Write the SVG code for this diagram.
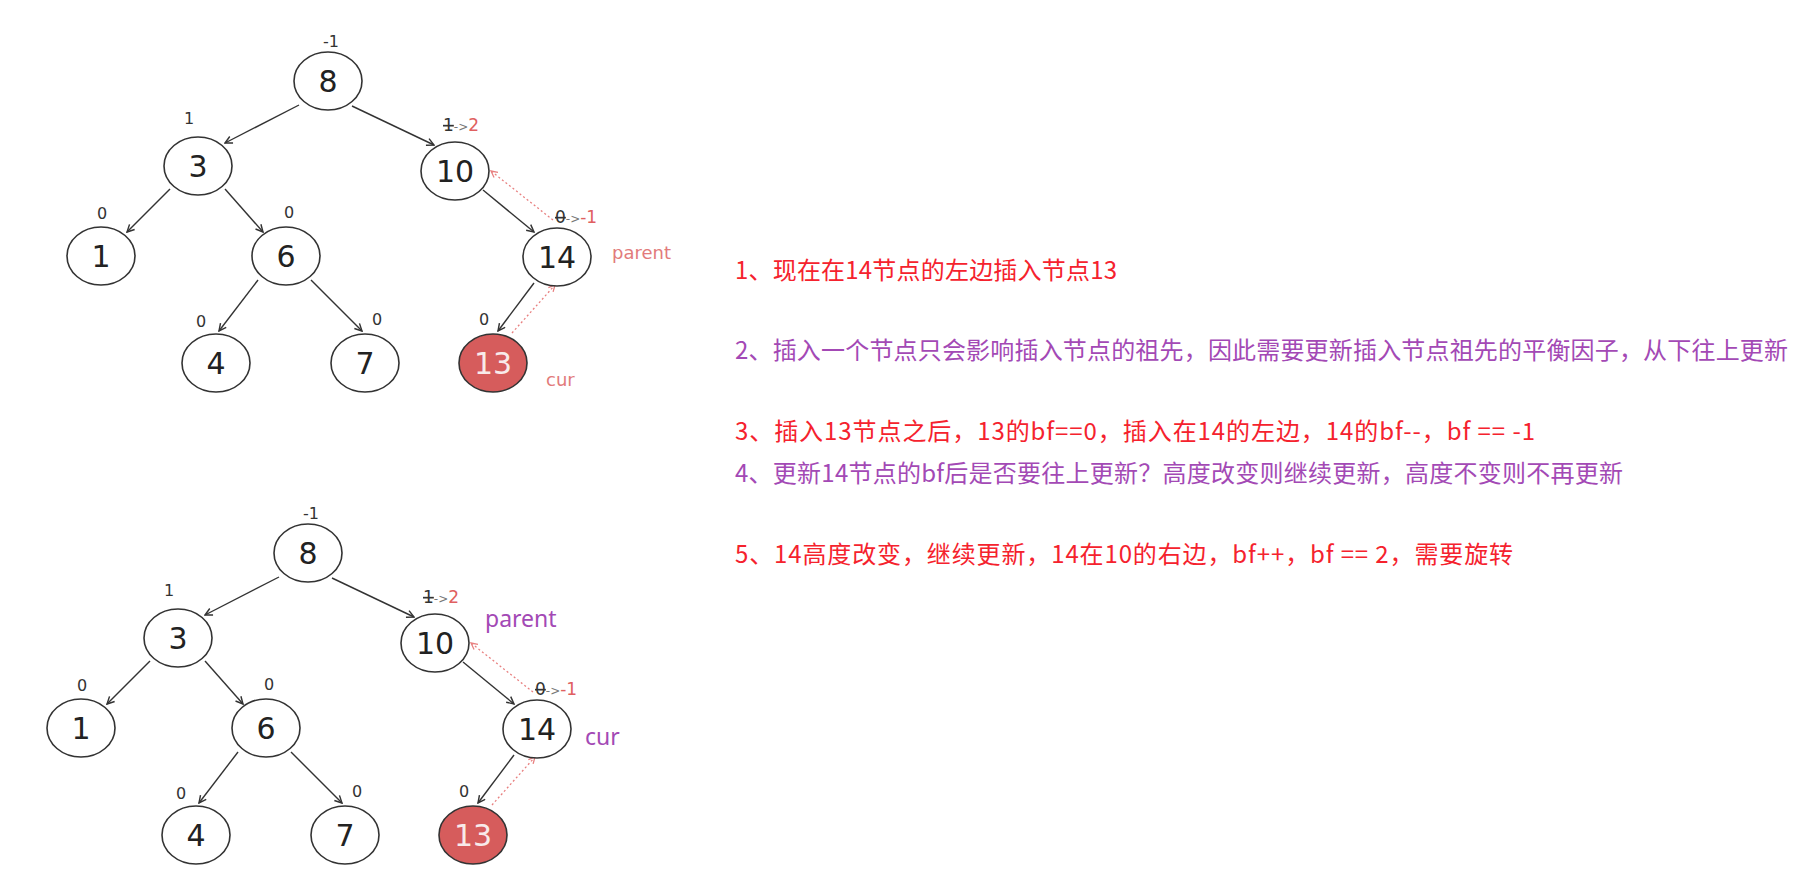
<svg xmlns="http://www.w3.org/2000/svg" width="1802" height="879" viewBox="0 0 1802 879">
<defs>
<style>
.nd{fill:#fff;stroke:#333;stroke-width:1.6}
.hot{fill:#d65c5c;stroke:#333;stroke-width:1.6}
.nt{font-family:"DejaVu Sans",sans-serif;font-size:30px;fill:#222;text-anchor:middle}
.ht{font-family:"DejaVu Sans",sans-serif;font-size:30px;fill:#f8eaea;text-anchor:middle}
.bf{font-family:"DejaVu Sans",sans-serif;font-size:16px;fill:#333;text-anchor:middle}
.bfs{font-family:"DejaVu Sans",sans-serif;font-size:17px;fill:#333}
.ar{fill:#777;font-size:12px}
.rd{fill:#e06060}
.e{stroke:#333;stroke-width:1.4;fill:none;marker-end:url(#ah)}
.d{stroke:#e88080;stroke-width:1.3;fill:none;stroke-dasharray:2 2.5;marker-end:url(#rh)}
.lr{font-family:"DejaVu Sans",sans-serif;font-size:18px;fill:#e27b7b}
.lp{font-family:"Noto Sans","Noto Sans CJK SC",sans-serif;font-size:23px;fill:#a349b5}
.t{font-family:"Noto Sans CJK SC","Noto Sans",sans-serif;font-size:24px}
.red{fill:#f5222d}
.pur{fill:#a349b5}
</style>
<marker id="ah" viewBox="0 0 10 10" refX="9" refY="5" markerWidth="9" markerHeight="9" orient="auto" markerUnits="userSpaceOnUse">
<path d="M1,1 L9,5 L1,9" fill="none" stroke="#333" stroke-width="1.6"/>
</marker>
<marker id="rh" viewBox="0 0 10 10" refX="9" refY="5" markerWidth="8" markerHeight="8" orient="auto" markerUnits="userSpaceOnUse">
<path d="M1,1 L9,5 L1,9" fill="none" stroke="#e88080" stroke-width="1.6"/>
</marker>
</defs>
<rect width="1802" height="879" fill="#fff"/>

<!-- Tree 1 -->
<g id="tree1">
<g id="connectors1">
<line class="e" x1="299" y1="105" x2="225" y2="143"/>
<line class="e" x1="352" y1="106" x2="434" y2="145"/>
<line class="e" x1="170" y1="189" x2="127" y2="232"/>
<line class="e" x1="225" y1="189" x2="263" y2="232"/>
<line class="e" x1="258" y1="280" x2="219" y2="331"/>
<line class="e" x1="311" y1="280" x2="362" y2="331"/>
<line class="e" x1="483" y1="190" x2="534" y2="232"/>
<line class="e" x1="534" y1="283" x2="498" y2="331"/>
<line class="d" x1="553" y1="220" x2="491" y2="171"/>
<line class="d" x1="512" y1="333" x2="555" y2="285"/>
</g>
<g id="t1-n8"><ellipse class="nd" cx="328" cy="81" rx="34" ry="29"/><text class="nt" x="328" y="92">8</text><text class="bf" x="331" y="47">-1</text></g>
<g id="t1-n3"><ellipse class="nd" cx="198" cy="166" rx="34" ry="29"/><text class="nt" x="198" y="177">3</text><text class="bf" x="189" y="124">1</text></g>
<g id="t1-n10"><ellipse class="nd" cx="455" cy="171" rx="34" ry="29"/><text class="nt" x="455" y="182">10</text><text class="bfs" x="443" y="131"><tspan text-decoration="line-through">1</tspan><tspan class="ar">-&gt;</tspan><tspan class="rd">2</tspan></text></g>
<g id="t1-n1"><ellipse class="nd" cx="101" cy="256" rx="34" ry="29"/><text class="nt" x="101" y="267">1</text><text class="bf" x="102" y="219">0</text></g>
<g id="t1-n6"><ellipse class="nd" cx="286" cy="256" rx="34" ry="29"/><text class="nt" x="286" y="267">6</text><text class="bf" x="289" y="218">0</text></g>
<g id="t1-n14"><ellipse class="nd" cx="557" cy="257" rx="34" ry="29"/><text class="nt" x="557" y="268">14</text><text class="bfs" x="555" y="223"><tspan text-decoration="line-through">0</tspan><tspan class="ar">-&gt;</tspan><tspan class="rd">-1</tspan></text></g>
<g id="t1-n4"><ellipse class="nd" cx="216" cy="363" rx="34" ry="29"/><text class="nt" x="216" y="374">4</text><text class="bf" x="201" y="327">0</text></g>
<g id="t1-n7"><ellipse class="nd" cx="365" cy="363" rx="34" ry="29"/><text class="nt" x="365" y="374">7</text><text class="bf" x="377" y="325">0</text></g>
<g id="t1-n13"><ellipse class="hot" cx="493" cy="363" rx="34" ry="29"/><text class="ht" x="493" y="374">13</text><text class="bf" x="484" y="325">0</text></g>
<text class="lr" x="612" y="259">parent</text>
<text class="lr" x="546" y="386">cur</text>
</g>

<!-- Tree 2 -->
<g id="tree2" transform="translate(-20,472)">
<g id="connectors2">
<line class="e" x1="299" y1="105" x2="225" y2="143"/>
<line class="e" x1="352" y1="106" x2="434" y2="145"/>
<line class="e" x1="170" y1="189" x2="127" y2="232"/>
<line class="e" x1="225" y1="189" x2="263" y2="232"/>
<line class="e" x1="258" y1="280" x2="219" y2="331"/>
<line class="e" x1="311" y1="280" x2="362" y2="331"/>
<line class="e" x1="483" y1="190" x2="534" y2="232"/>
<line class="e" x1="534" y1="283" x2="498" y2="331"/>
<line class="d" x1="553" y1="220" x2="491" y2="171"/>
<line class="d" x1="512" y1="333" x2="555" y2="285"/>
</g>
<g id="t2-n8"><ellipse class="nd" cx="328" cy="81" rx="34" ry="29"/><text class="nt" x="328" y="92">8</text><text class="bf" x="331" y="47">-1</text></g>
<g id="t2-n3"><ellipse class="nd" cx="198" cy="166" rx="34" ry="29"/><text class="nt" x="198" y="177">3</text><text class="bf" x="189" y="124">1</text></g>
<g id="t2-n10"><ellipse class="nd" cx="455" cy="171" rx="34" ry="29"/><text class="nt" x="455" y="182">10</text><text class="bfs" x="443" y="131"><tspan text-decoration="line-through">1</tspan><tspan class="ar">-&gt;</tspan><tspan class="rd">2</tspan></text></g>
<g id="t2-n1"><ellipse class="nd" cx="101" cy="256" rx="34" ry="29"/><text class="nt" x="101" y="267">1</text><text class="bf" x="102" y="219">0</text></g>
<g id="t2-n6"><ellipse class="nd" cx="286" cy="256" rx="34" ry="29"/><text class="nt" x="286" y="267">6</text><text class="bf" x="289" y="218">0</text></g>
<g id="t2-n14"><ellipse class="nd" cx="557" cy="257" rx="34" ry="29"/><text class="nt" x="557" y="268">14</text><text class="bfs" x="555" y="223"><tspan text-decoration="line-through">0</tspan><tspan class="ar">-&gt;</tspan><tspan class="rd">-1</tspan></text></g>
<g id="t2-n4"><ellipse class="nd" cx="216" cy="363" rx="34" ry="29"/><text class="nt" x="216" y="374">4</text><text class="bf" x="201" y="327">0</text></g>
<g id="t2-n7"><ellipse class="nd" cx="365" cy="363" rx="34" ry="29"/><text class="nt" x="365" y="374">7</text><text class="bf" x="377" y="325">0</text></g>
<g id="t2-n13"><ellipse class="hot" cx="493" cy="363" rx="34" ry="29"/><text class="ht" x="493" y="374">13</text><text class="bf" x="484" y="325">0</text></g>
<text class="lp" x="505" y="155">parent</text>
<text class="lp" x="605" y="273">cur</text>
</g>

<!-- Notes -->
<g id="notes" class="t">
<text class="t red" x="735" y="279" textLength="382" lengthAdjust="spacing">1、现在在14节点的左边插入节点13</text>
<text class="t pur" x="735" y="359" textLength="1053" lengthAdjust="spacing">2、插入一个节点只会影响插入节点的祖先，因此需要更新插入节点祖先的平衡因子，从下往上更新</text>
<text class="t red" x="735" y="440" textLength="800" lengthAdjust="spacing">3、插入13节点之后，13的bf==0，插入在14的左边，14的bf--，bf == -1</text>
<text class="t pur" x="735" y="482" textLength="888" lengthAdjust="spacing">4、更新14节点的bf后是否要往上更新？高度改变则继续更新，高度不变则不再更新</text>
<text class="t red" x="735" y="563" textLength="778" lengthAdjust="spacing">5、14高度改变，继续更新，14在10的右边，bf++，bf == 2，需要旋转</text>
</g>
</svg>
